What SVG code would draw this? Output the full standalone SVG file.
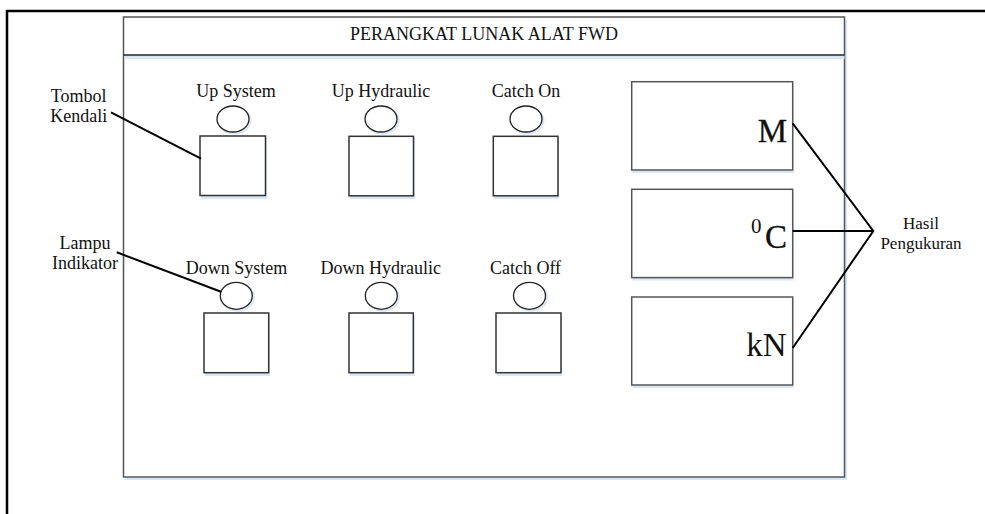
<svg xmlns="http://www.w3.org/2000/svg" width="985" height="514" viewBox="0 0 985 514">
<style>
text{font-family:"Liberation Serif","Times New Roman",serif;fill:#111;}
.lbl{font-size:18px;text-anchor:middle;}
.box{fill:#fff;stroke:#555;stroke-width:1.5;}
.sh{fill:#d9e6f5;stroke:none;}
.shc{fill:none;stroke:#d9e6f5;stroke-width:2;}
.led{fill:#fff;stroke:#222;stroke-width:1.3;}
.btn{fill:#fff;stroke:#333;stroke-width:1.5;}
.con{stroke:#000;stroke-width:2;fill:none;}
.unit{font-size:33px;text-anchor:end;}
.heavy{stroke:#111;stroke-width:0.3;}
</style>
<rect width="985" height="514" fill="#fff"/>
<g id="frame">
<line x1="6" y1="11" x2="985" y2="11" stroke="#000" stroke-width="2.5"/>
<line x1="7" y1="10" x2="7" y2="514" stroke="#000" stroke-width="2.5"/>
</g>
<g id="panel">
<rect class="sh" x="125" y="20" width="722" height="460"/>
<rect class="box" x="123.5" y="17" width="721" height="460"/>
<rect class="sh" x="124.5" y="55.5" width="720" height="3.5"/>
<line x1="123.5" y1="55" x2="844.5" y2="55" stroke="#222" stroke-width="1.5"/>
<text x="484" y="40" class="lbl">PERANGKAT LUNAK ALAT FWD</text>
</g>
<g id="up-system">
<text x="236" y="97" class="lbl">Up System</text>
<ellipse class="shc" cx="234.5" cy="120.5" rx="16" ry="13"/>
<ellipse class="led" cx="233" cy="119" rx="16" ry="13"/>
<rect class="sh" x="201" y="138" width="66" height="61"/>
<rect class="btn" x="200" y="136" width="65.5" height="59.5"/>
</g>
<g id="up-hydraulic">
<text x="381" y="97" class="lbl">Up Hydraulic</text>
<ellipse class="shc" cx="382.5" cy="120.5" rx="16" ry="13"/>
<ellipse class="led" cx="381" cy="119" rx="16" ry="13"/>
<rect class="sh" x="350" y="138" width="65" height="61"/>
<rect class="btn" x="349" y="136.3" width="64.5" height="59.5"/>
</g>
<g id="catch-on">
<text x="526" y="97" class="lbl">Catch On</text>
<ellipse class="shc" cx="527.5" cy="120.5" rx="16" ry="13"/>
<ellipse class="led" cx="526" cy="119" rx="16" ry="13"/>
<rect class="sh" x="494" y="138" width="65" height="61"/>
<rect class="btn" x="493.3" y="136.3" width="64.7" height="59.5"/>
</g>
<g id="down-system">
<text x="236.5" y="274" class="lbl">Down System</text>
<ellipse class="shc" cx="237.8" cy="297.3" rx="16" ry="13.5"/>
<ellipse class="led" cx="236.3" cy="295.8" rx="16" ry="13.5"/>
<rect class="sh" x="205" y="315" width="65" height="61"/>
<rect class="btn" x="204" y="313" width="64.7" height="59.7"/>
</g>
<g id="down-hydraulic">
<text x="380.7" y="274" class="lbl">Down Hydraulic</text>
<ellipse class="shc" cx="382.8" cy="297.3" rx="16" ry="13.5"/>
<ellipse class="led" cx="381.3" cy="295.8" rx="16" ry="13.5"/>
<rect class="sh" x="350" y="315" width="65" height="61"/>
<rect class="btn" x="349" y="313" width="64.3" height="59.7"/>
</g>
<g id="catch-off">
<text x="525.5" y="274" class="lbl">Catch Off</text>
<ellipse class="shc" cx="531" cy="297.3" rx="16" ry="13.5"/>
<ellipse class="led" cx="529.5" cy="295.8" rx="16" ry="13.5"/>
<rect class="sh" x="497" y="315" width="65" height="61"/>
<rect class="btn" x="496" y="313" width="65" height="59.7"/>
</g>
<g id="display-m">
<rect class="sh" x="632.5" y="84" width="161" height="89"/>
<rect class="box" x="631.7" y="81.7" width="161" height="88.3"/>
<text x="787" y="141.5" class="unit heavy">M</text>
</g>
<g id="display-c">
<rect class="sh" x="632.5" y="191.5" width="161" height="89"/>
<rect class="box" x="631.7" y="189.3" width="161" height="88.3"/>
<text x="787" y="248.3" class="unit heavy">C</text>
<text x="751" y="233.3" style="font-size:21px">0</text>
</g>
<g id="display-kn">
<rect class="sh" x="632.5" y="299" width="161" height="89"/>
<rect class="box" x="631.7" y="297" width="161" height="88"/>
<text x="786.5" y="355.7" class="unit">kN</text>
</g>
<g id="label-tombol">
<text x="78.7" y="102" class="lbl">Tombol</text>
<text x="78.7" y="121.7" class="lbl">Kendali</text>
</g>
<g id="label-lampu">
<text x="85" y="249.3" class="lbl">Lampu</text>
<text x="85" y="269" class="lbl">Indikator</text>
</g>
<g id="label-hasil">
<text x="921" y="229" class="lbl" style="font-size:17px">Hasil</text>
<text x="921" y="249" class="lbl" style="font-size:17px">Pengukuran</text>
</g>
<g id="connectors">
<line class="con" x1="111" y1="112.3" x2="201" y2="158.7"/>
<line class="con" x1="116.7" y1="252.3" x2="221" y2="291.7"/>
<polyline class="con" points="792.7,123.3 873.3,231 792.7,348"/>
<line class="con" x1="792.7" y1="231" x2="873.3" y2="231"/>
</g>
</svg>
